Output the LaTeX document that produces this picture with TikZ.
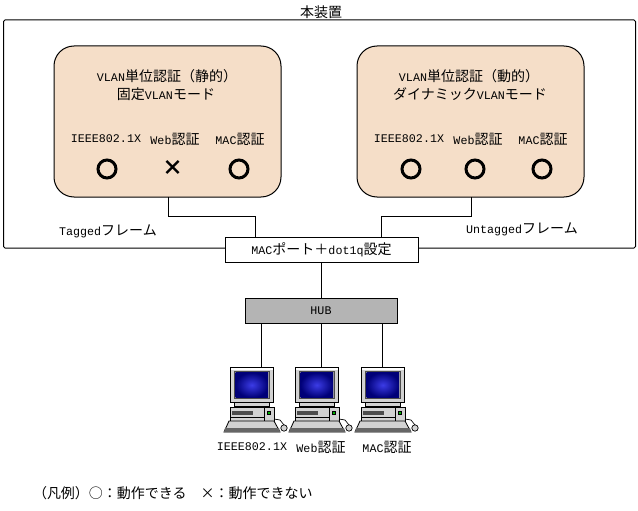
\documentclass[tikz,border=0pt]{standalone}
\usepackage{fontspec}
\setmainfont{Liberation Mono}
\newfontfamily\jpf{Noto Sans CJK JP}
\newcommand{\J}[1]{{\fontsize{14}{16}\jpf #1}}
\tikzset{
  x=1pt,y=-1pt,
  every node/.style={font=\fontsize{11.67}{16}\selectfont,inner sep=0pt,outer sep=0pt},
  wire/.style={draw=black,line width=1pt},
  modebox/.style={draw=black,line width=1pt,fill=peach,rounded corners=20pt,minimum width=227pt,minimum height=151pt},
  whitebox/.style={draw=black,line width=1pt,fill=white},
  okmark/.style={circle,draw=black,line width=3pt,minimum size=18pt},
  pc/.pic={
    \draw[fill=pcgrey,line width=.8pt] (0,0) rectangle (43.5,35);
    \fill[white] (1,1) rectangle (42.5,3);
    \draw[fill=pcgrey!80!black,draw=black!70,line width=.6pt] (4.5,4.5) rectangle (39,31);
    \shade[inner color=scrin,outer color=scrout] (5.5,5.5) rectangle (38,30.5);
    \draw[fill=pcgrey,line width=.8pt] (4,35) rectangle (39.5,39);
    \draw[fill=pcgrey,line width=.8pt] (0,40) rectangle (44,54);
    \draw[line width=.7pt] (0,50) -- (34,50) (34,40) -- (34,54);
    \fill[black!70] (2,44) rectangle (23,47.5);
    \fill[black] (37,43.5) rectangle (41,47.5);
    \fill[green!70!black] (38,44.5) rectangle (40,46.5);
    \draw[fill=pcgrey,line width=.8pt] (-1,54) -- (44,54) -- (50,65) -- (-6,65) -- cycle;
    \fill[black!60] (-5,61) -- (49,61) -- (50,65) -- (-6,65) -- cycle;
    \draw[line width=.7pt] (44,52) -- (50,53) -- (54,58);
    \draw[fill=pcgrey,line width=.7pt] (54,61) circle (3.2);
  }
}
\definecolor{peach}{HTML}{F5DEC8}
\definecolor{hubgrey}{HTML}{B4B4B4}
\definecolor{pcgrey}{HTML}{D2D2D2}
\definecolor{scrin}{HTML}{3C3CE6}
\definecolor{scrout}{HTML}{000078}
\begin{document}
\begin{tikzpicture}
\useasboundingbox (0,0) rectangle (638,511);
\node (title) at (321,12) {\J{本装置}};
\node[draw=black,line width=1pt,rounded corners=1.5pt,minimum width=632pt,minimum height=228pt] (outer) at (319.5,134) {};
\node[modebox] (left) at (167.5,121.5) {};
\node[modebox] (right) at (470.5,121.5) {};
\node[whitebox,minimum width=193pt,minimum height=25pt] (port) at (321.5,249.5) {MAC\J{ポート＋}dot1q\J{設定}};
\node[whitebox,fill=hubgrey,minimum width=152pt,minimum height=25pt] (hub) at (321,310.5) {HUB};
\node (lt1) at (167,76) {VLAN\J{単位認証（静的）}};
\node (lt2) at (166,94) {\J{固定}VLAN\J{モード}};
\node (la) at (106,139) {IEEE802.1X};
\node (lb) at (175,139) {Web\J{認証}};
\node (lc) at (240,139) {MAC\J{認証}};
\node[okmark] (m1) at (107,169) {};
\node (m2) at (173,168) {\fontsize{21}{21}\jpf\bfseries ×};
\node[okmark] (m3) at (239,169) {};
\node (rt1) at (469,76) {VLAN\J{単位認証（動的）}};
\node (rt2) at (470,94) {\J{ダイナミック}VLAN\J{モード}};
\node (ra) at (409,139) {IEEE802.1X};
\node (rb) at (478,139) {Web\J{認証}};
\node (rc) at (543,139) {MAC\J{認証}};
\node[okmark] (n1) at (411,169) {};
\node[okmark] (n2) at (475,169) {};
\node[okmark] (n3) at (542,169) {};
\node (tag) at (108,231) {Tagged\J{フレーム}};
\node (untag) at (522,229) {Untagged\J{フレーム}};
\coordinate (ls) at (left.south -| 168,0);
\coordinate (lp) at (port.north -| 255,0);
\coordinate (rs) at (right.south -| 471,0);
\coordinate (rp) at (port.north -| 381,0);
\draw[wire] (ls) -- (168,216) -| (lp);
\draw[wire] (rs) -- (471,216) -| (rp);
\draw[wire] (port.south -| hub.north) -- (hub.north);
\pic at (230,367) {pc};
\pic at (295,367) {pc};
\pic at (361,367) {pc};
\coordinate (pca) at (261,367);
\coordinate (pcb) at (321,367);
\coordinate (pcc) at (382,367);
\draw[wire] (hub.south -| pca) -- (pca);
\draw[wire] (hub.south -| pcb) -- (pcb);
\draw[wire] (hub.south -| pcc) -- (pcc);
\node (pa) at (252,447) {IEEE802.1X};
\node (pb) at (321,447) {Web\J{認証}};
\node (pc3) at (387,447) {MAC\J{認証}};
\node[anchor=west] (legend) at (33,493) {\J{（凡例）○：動作できる　×：動作できない}};
\end{tikzpicture}
\end{document}
